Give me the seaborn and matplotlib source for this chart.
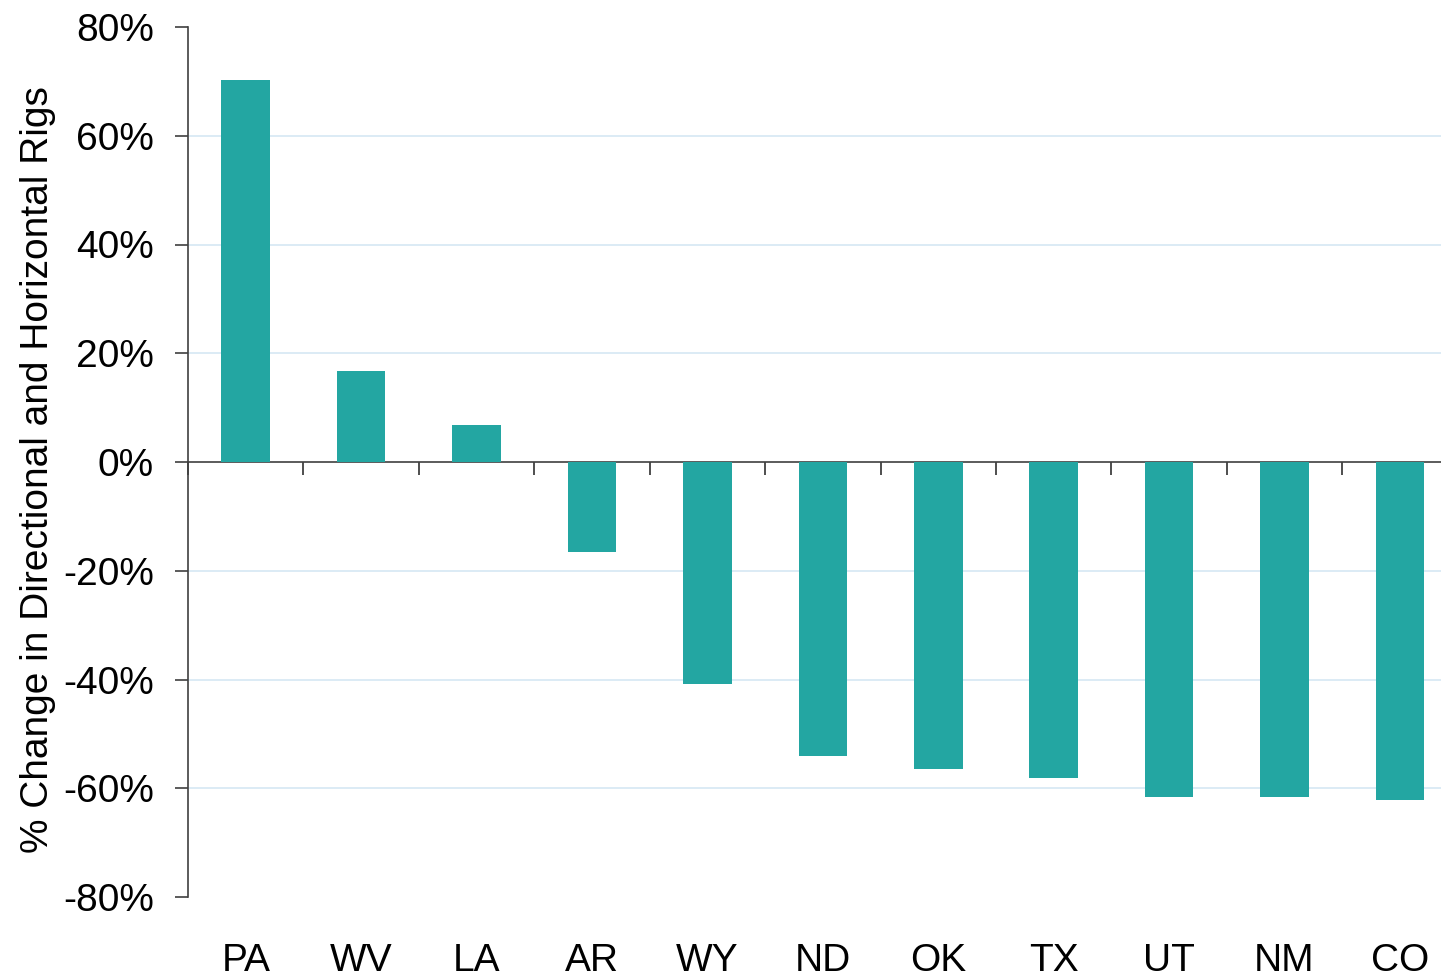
import matplotlib
matplotlib.use("Agg")
import matplotlib.pyplot as plt
import seaborn as sns
import pandas as pd

states = ["PA", "WV", "LA", "AR", "WY", "ND", "OK", "TX", "UT", "NM", "CO"]
change = [70.3, 16.7, 6.8, -16.6, -40.8, -54.1, -56.5, -58.1, -61.6, -61.6, -62.2]
yticks = [-80, -60, -40, -20, 0, 20, 40, 60, 80]
ytick_labels = [f"{v}%" for v in yticks]

sns.set_style("white")
plt.rcParams["font.family"] = ["Liberation Sans", "DejaVu Sans"]

df = pd.DataFrame({"state": states, "change": change})

fig = plt.figure(figsize=(14.41, 9.76), dpi=100)
ax = fig.add_axes([188/1441, 79/976, 1269.7/1441, 870/976])

sns.barplot(data=df, x="state", y="change", order=states, color="#23A6A2",
            saturation=1, width=0.42, ax=ax, zorder=3, linewidth=0)

ax.set_xlim(-0.5, len(states) - 0.5)
ax.set_ylim(-80, 80)
ax.set_yticks(yticks)
ax.set_yticklabels(ytick_labels)
for v in yticks:
    if v not in (0, 80, -80):
        ax.axhline(v, color="#D5E8F3", lw=1.2, zorder=1)

for s in ["top", "right", "bottom"]:
    ax.spines[s].set_visible(False)
ax.spines["left"].set_color("#404040")
ax.spines["left"].set_linewidth(1.2)

ax.tick_params(axis="y", length=9.4, width=1.2, color="#404040", pad=15,
               labelsize=28, labelcolor="black", left=True)
ax.tick_params(axis="x", length=0, pad=33, labelsize=28, labelcolor="black")
ax.set_xlabel("")
ax.set_ylabel("% Change in Directional and Horizontal Rigs", fontsize=28, color="black")
ax.yaxis.set_label_coords(-0.104, 0.491)

sec = ax.secondary_xaxis(0.5)
sec.set_alignment("bottom")
sec.set_xticks([i + 0.5 for i in range(len(states) - 1)] + [-0.5])
sec.set_xticklabels([])
sec.tick_params(axis="x", length=9.4, width=1.2, color="#303030", direction="out")
sec.spines["bottom"].set_color("#404040")
sec.spines["bottom"].set_linewidth(1.2)

fig.savefig("out.png", dpi=100)
